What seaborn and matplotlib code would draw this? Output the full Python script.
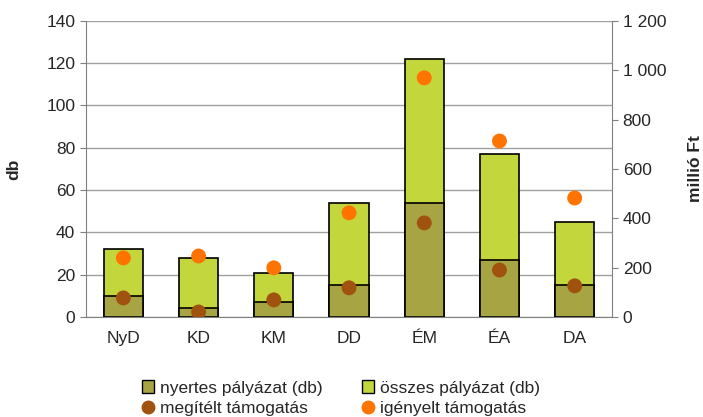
import pandas as pd
import numpy as np
import seaborn as sns
import matplotlib.pyplot as plt
from matplotlib.ticker import FuncFormatter
from matplotlib.patches import Patch
from matplotlib.lines import Line2D

# data
regions = ["NyD", "KD", "KM", "DD", "ÉM", "ÉA", "DA"]
osszes = [32, 28, 21, 54, 122, 77, 45]
nyertes = [10, 4, 7, 15, 54, 27, 15]
megitelt = [77, 20, 69, 118, 381, 190, 126]
igenyelt = [239, 247, 199, 422, 969, 713, 482]

df = pd.DataFrame({"regio": regions, "osszes": osszes, "nyertes": nyertes,
                   "megitelt": megitelt, "igenyelt": igenyelt})

sns.set_style("white")
plt.rcParams['font.family'] = ['Liberation Sans', 'DejaVu Sans']
plt.rcParams['font.size'] = 12.5

c_osszes = "#c3d63c"
c_nyertes = "#a6a443"
c_meg = "#a0520f"
c_ig = "#ff7300"

fig, ax = plt.subplots(figsize=(7.03, 4.17), dpi=100)
fig.subplots_adjust(left=0.122, right=0.871, top=0.95, bottom=0.24)

sns.barplot(data=df, x="regio", y="osszes", color=c_osszes, width=0.52,
            saturation=1, edgecolor="black", linewidth=1.2, ax=ax)
sns.barplot(data=df, x="regio", y="nyertes", color=c_nyertes, width=0.52,
            saturation=1, edgecolor="black", linewidth=1.2, ax=ax)

ax.set_ylim(0, 140)
ax.set_yticks(range(0, 141, 20))
ax.yaxis.grid(True, color="#a0a0a0", linewidth=1)
ax.set_axisbelow(True)
ax.set_xlim(-0.5, 6.5)
ax.set_xlabel("")
ax.set_ylabel("db", fontweight="bold", fontsize=12.5, labelpad=18)
ax.spines["top"].set_visible(False)
ax.spines["right"].set_visible(False)
ax.spines["left"].set_color("#808080")
ax.spines["bottom"].set_color("#808080")
ax.tick_params(axis="both", length=4, color="#808080", direction="out",
               left=True, bottom=True)
ax.set_xticks(np.arange(-0.5, 7, 1), minor=True)
ax.tick_params(axis="x", which="major", length=0, pad=10)
ax.tick_params(axis="x", which="minor", length=5, color="#808080")

ax2 = ax.twinx()
sns.scatterplot(x=np.arange(len(regions)), y=megitelt, color=c_meg, s=115,
                edgecolor="none", ax=ax2, zorder=5)
sns.scatterplot(x=np.arange(len(regions)), y=igenyelt, color=c_ig, s=115,
                edgecolor="none", ax=ax2, zorder=5)
ax2.set_ylim(0, 1200)
ax2.set_yticks(range(0, 1201, 200))
ax2.yaxis.set_major_formatter(FuncFormatter(lambda v, p: f"{int(v):,}".replace(",", " ")))
ax2.set_ylabel("millió Ft", fontweight="bold", fontsize=12.5, labelpad=16)
for s in ["top", "left", "bottom"]:
    ax2.spines[s].set_visible(False)
ax2.spines["right"].set_color("#808080")
ax2.tick_params(axis="y", length=4, color="#808080", right=True)

# legend is row-major in the reference, matplotlib fills columns first
handles = [
    Patch(facecolor=c_nyertes, edgecolor="black", label="nyertes pályázat (db)"),
    Line2D([], [], marker="o", linestyle="none", color=c_meg, markersize=9,
           label="megítélt támogatás"),
    Patch(facecolor=c_osszes, edgecolor="black", label="összes pályázat (db)"),
    Line2D([], [], marker="o", linestyle="none", color=c_ig, markersize=9,
           label="igényelt támogatás"),
]
fig.legend(handles=handles, ncol=2, loc="lower center", bbox_to_anchor=(0.485, -0.035),
           frameon=False, handlelength=0.7, handletextpad=0.3, columnspacing=2.3,
           labelspacing=0.3, fontsize=12.5)

fig.savefig("out.png", dpi=100)
